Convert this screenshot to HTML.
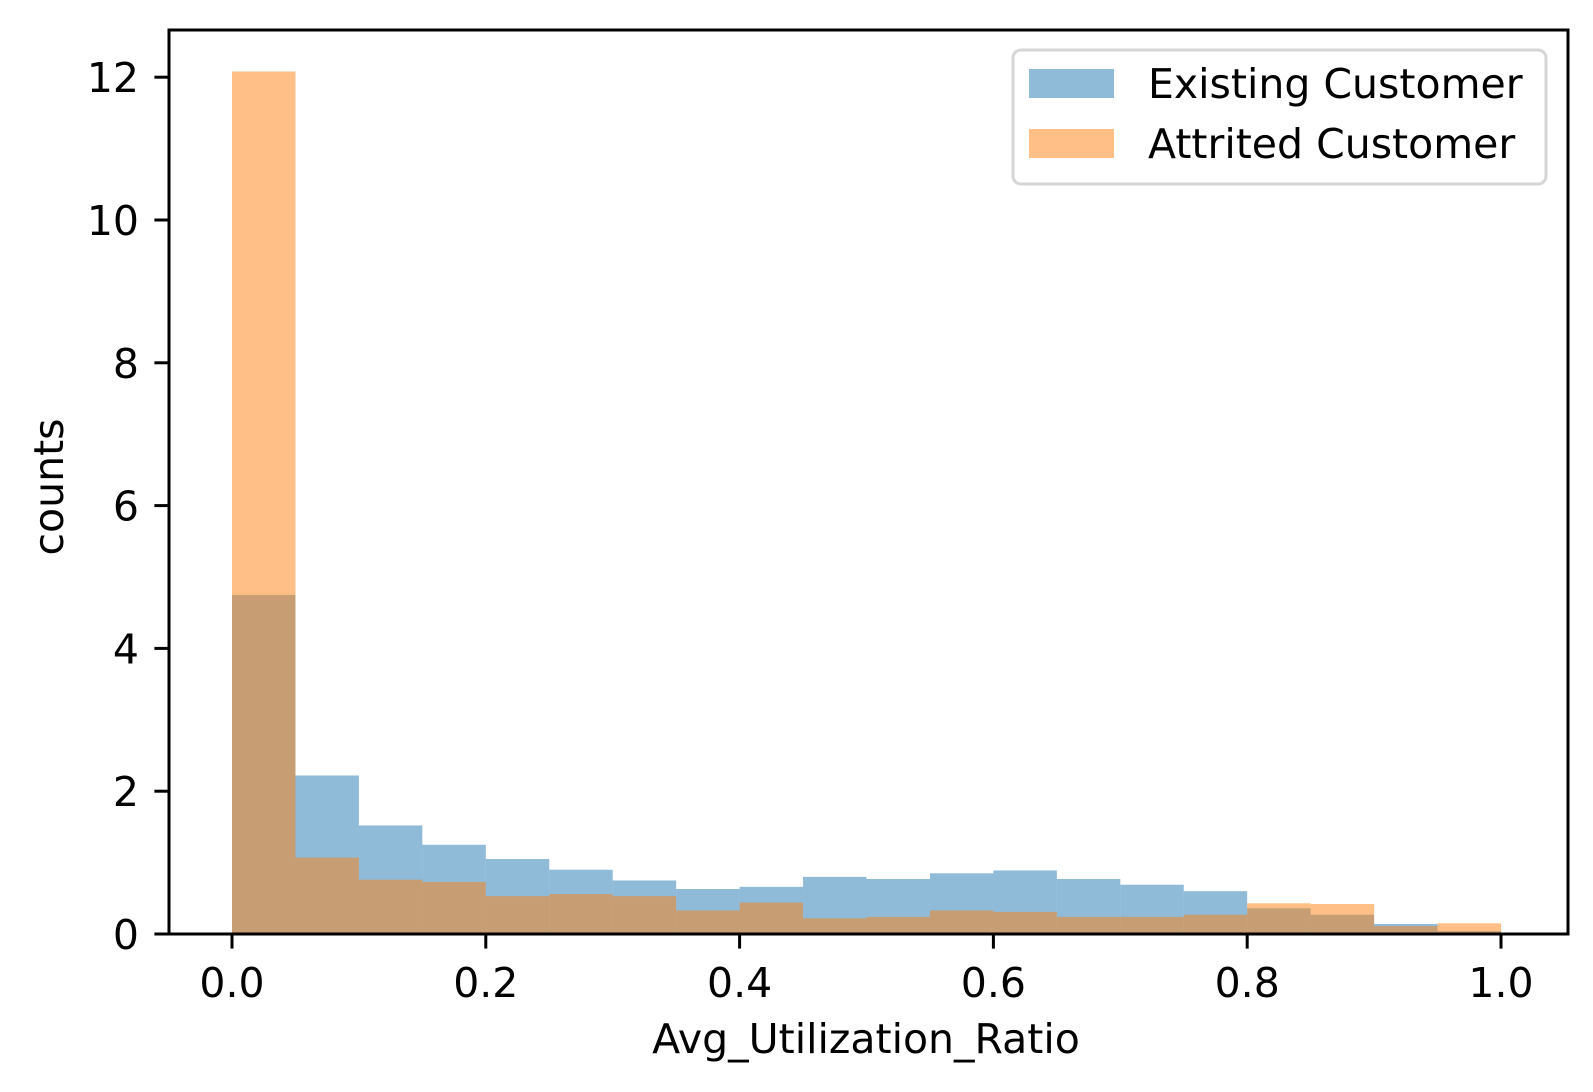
<!DOCTYPE html>
<html><head><meta charset="utf-8"><style>
html,body{margin:0;padding:0;background:#fff;}
svg{display:block;font-family:"DejaVu Sans","Liberation Sans",sans-serif;}
</style></head><body>
<svg id="chart" width="1593" height="1092" viewBox="0 0 1593 1092" xmlns="http://www.w3.org/2000/svg">
<rect x="0" y="0" width="1593" height="1092" fill="#fff"/>
<g id="bars"></g>
<g id="axes"></g>
<text x="866" y="1053" font-size="41" text-anchor="middle">Avg_Utilization_Ratio</text>
<text x="63" y="487" font-size="41" text-anchor="middle" transform="rotate(-90 63 487)">counts</text>
<g>
<rect x="1013" y="50" width="533" height="134" rx="8" fill="#fff" fill-opacity="0.8" stroke="#d6d6d6" stroke-width="3"/>
<rect x="1029" y="69" width="85" height="29" fill="#1f77b4" fill-opacity="0.5"/>
<text x="1148" y="98" font-size="41">Existing Customer</text>
<rect x="1029" y="129" width="85" height="29" fill="#ff7f0e" fill-opacity="0.5"/>
<text x="1148" y="158" font-size="41">Attrited Customer</text>
</g>
</svg>
<script>
const binEdgesStart = [0,0.05,0.1,0.15,0.2,0.25,0.3,0.35,0.4,0.45,0.5,0.55,0.6,0.65,0.7,0.75,0.8,0.85,0.9,0.95];
const binWidth = 0.05;
const existingCounts = [4.75,2.22,1.52,1.25,1.05,0.9,0.75,0.63,0.66,0.8,0.77,0.85,0.89,0.77,0.69,0.60,0.36,0.27,0.14,0.04];
const attritedCounts = [12.08,1.07,0.76,0.73,0.53,0.56,0.53,0.33,0.44,0.22,0.24,0.33,0.31,0.24,0.24,0.27,0.43,0.42,0.11,0.15];
const xTicks = [0,0.2,0.4,0.6,0.8,1.0];
const xTickLabels = ["0.0","0.2","0.4","0.6","0.8","1.0"];
const yTicks = [0,2,4,6,8,10,12];
const yTickLabels = ["0","2","4","6","8","10","12"];

const NS = "http://www.w3.org/2000/svg";
const L = 169, R = 1568, T = 30, B = 934;
function xs(v){ return 232 + v * 1269; }
function ys(v){ return 934 - v * 71.4; }

const bars = document.getElementById('bars');
function drawSeries(vals, color, name){
  vals.forEach((v, i) => {
    const x0 = xs(binEdgesStart[i]), x1 = xs(binEdgesStart[i] + binWidth);
    const r = document.createElementNS(NS, 'rect');
    r.setAttribute('x', x0);
    r.setAttribute('y', ys(v));
    r.setAttribute('width', x1 - x0);
    r.setAttribute('height', ys(0) - ys(v));
    r.setAttribute('fill', color);
    r.setAttribute('fill-opacity', '0.5');
    
    
    bars.appendChild(r);
  });
}
drawSeries(existingCounts, '#1f77b4', 'existing');
drawSeries(attritedCounts, '#ff7f0e', 'attrited');

const axes = document.getElementById('axes');
const frame = document.createElementNS(NS, 'rect');
frame.setAttribute('x', L); frame.setAttribute('y', T);
frame.setAttribute('width', R - L); frame.setAttribute('height', B - T);
frame.setAttribute('fill', 'none'); frame.setAttribute('stroke', '#000'); frame.setAttribute('stroke-width', '3');


axes.appendChild(frame);

xTicks.forEach((t, i) => {
  const x = xs(t);
  const ln = document.createElementNS(NS, 'line');
  ln.setAttribute('x1', x); ln.setAttribute('x2', x);
  ln.setAttribute('y1', B); ln.setAttribute('y2', B + 14.6);
  ln.setAttribute('stroke', '#000'); ln.setAttribute('stroke-width', '3');
  
  
  axes.appendChild(ln);
  const tx = document.createElementNS(NS, 'text');
  tx.setAttribute('x', x); tx.setAttribute('y', 997);
  tx.setAttribute('font-size', '41'); tx.setAttribute('text-anchor', 'middle');
  tx.textContent = xTickLabels[i];
  
  
  axes.appendChild(tx);
});
yTicks.forEach((t, i) => {
  const y = ys(t);
  const ln = document.createElementNS(NS, 'line');
  ln.setAttribute('x1', L - 14.6); ln.setAttribute('x2', L);
  ln.setAttribute('y1', y); ln.setAttribute('y2', y);
  ln.setAttribute('stroke', '#000'); ln.setAttribute('stroke-width', '3');
  
  
  axes.appendChild(ln);
  const tx = document.createElementNS(NS, 'text');
  tx.setAttribute('x', 139); tx.setAttribute('y', y + 15);
  tx.setAttribute('font-size', '41'); tx.setAttribute('text-anchor', 'end');
  tx.textContent = yTickLabels[i];
  
  
  axes.appendChild(tx);
});
</script>
</body></html>
